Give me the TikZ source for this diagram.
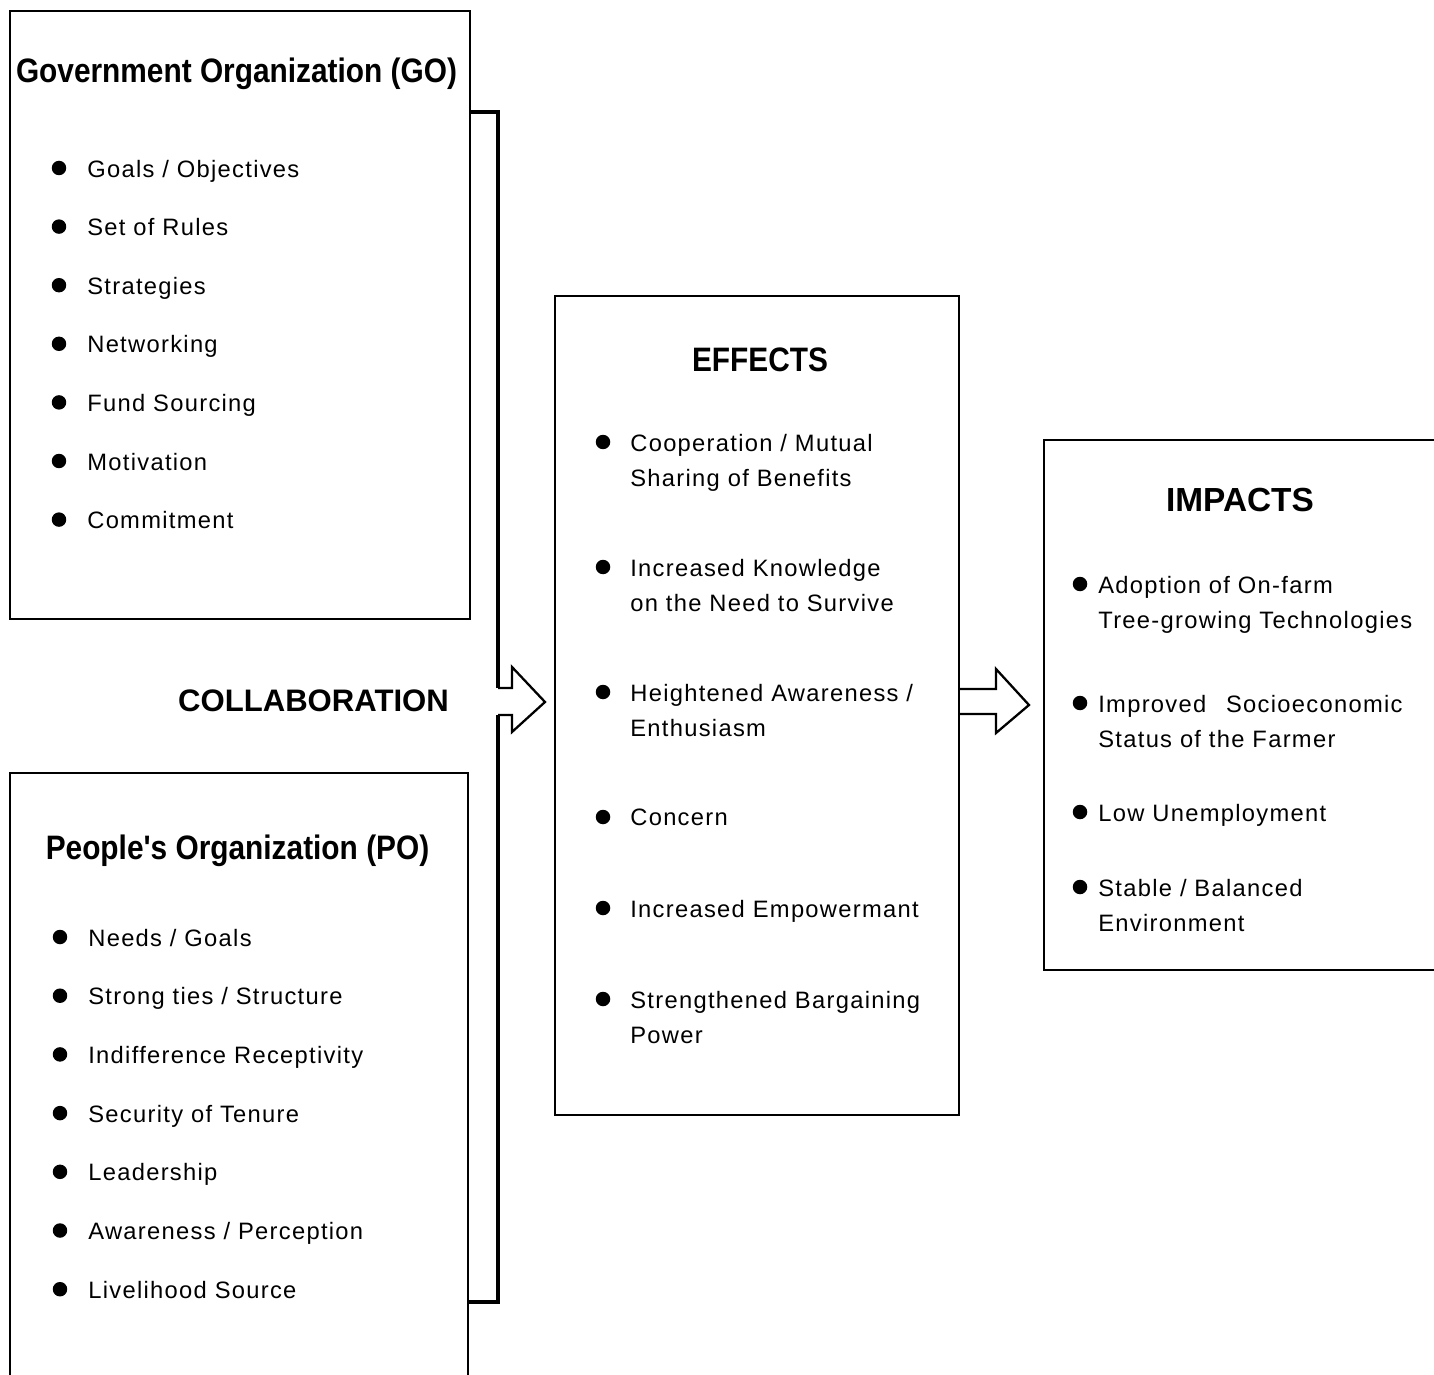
\documentclass[tikz,border=0pt]{standalone}
\usepackage{fontspec}
\setmainfont{Liberation Sans}[LetterSpace=5.5]
\newfontfamily\condfont{Liberation Sans}[FakeStretch=0.88]
\newfontfamily\headfont{Liberation Sans}
\usetikzlibrary{positioning}

\tikzset{
  box/.style={line width=1.3pt},
  bracket/.style={line width=1.8pt, line join=miter},
  blockarrow/.style={line width=1.3pt, line join=miter},
  dot/.style={circle, fill=black, inner sep=0pt, minimum size=0.29cm},
  item/.style={anchor=north west, inner sep=0pt, align=left,
    font={\fontsize{13.5}{19.9}\selectfont}},
  title/.style={anchor=base, inner sep=0pt, font={\condfont\bfseries\fontsize{19.3}{23}\selectfont}},
  bigtitle/.style={anchor=base, inner sep=0pt, font={\headfont\bfseries\fontsize{19}{23}\selectfont}}
}

\begin{document}
\begin{tikzpicture}[x=0.02cm, y=-0.02cm]
	\useasboundingbox (0,0) rectangle (1434,1375);
	\clip (0,0) rectangle (1434,1375);

	% boxes
	\draw[box] (10,11) rectangle (470,619);
	\draw[box] (10,1420) -- (10,773) -- (468,773) -- (468,1420);
	\draw[box] (555,296) rectangle (959,1115);
	\draw[box] (1480,440) -- (1044,440) -- (1044,970) -- (1480,970);

	% bracket joining GO and PO, with the arrow into EFFECTS
	\draw[bracket] (470,112) -- (498,112) -- (498,688);
	\draw[blockarrow] (498,688) -- (512,688) -- (512,667) -- (545,702) -- (512,732) -- (512,715) -- (498,715);
	\draw[bracket] (498,715) -- (498,1302) -- (468,1302);

	% arrow into IMPACTS
	\draw[blockarrow] (959,689) -- (996,689) -- (996,669) -- (1029,705) -- (996,733) -- (996,714) -- (959,714);

	% titles
	\node[title] (go) at (236.5,83) {Government Organization (GO)};
	\node[title] (po) at (237.5,859) {People's Organization (PO)};
	\node[bigtitle, font={\headfont\bfseries\fontsize{17.7}{22}\selectfont}] (collab) at (313.5,711.5) {COLLABORATION};
	\node[title] (effects) at (760,371.5) {EFFECTS};
	\node[bigtitle] (impacts) at (1240,511) {IMPACTS};

	% GO list
	\foreach \txt [count=\i] in {{Goals / Objectives}, {Set of Rules}, {Strategies}, {Networking},
	    {Fund Sourcing}, {Motivation}, {Commitment}} {
		\pgfmathsetmacro{\yy}{168+(\i-1)*58.6}
		\node[dot] (go-dot-\i) at (59,\yy) {};
		\node[item] (go-\i) at (87,\yy-8.5) {\txt};
	}

	% PO list
	\foreach \txt [count=\i] in {{Needs / Goals}, {Strong ties / Structure}, {Indifference Receptivity},
	    {Security of Tenure}, {Leadership}, {Awareness / Perception}, {Livelihood Source}} {
		\pgfmathsetmacro{\yy}{937+(\i-1)*58.7}
		\node[dot] (po-dot-\i) at (60,\yy) {};
		\node[item] (po-\i) at (88,\yy-8.5) {\txt};
	}

	% EFFECTS list
	\foreach \yy/\txt [count=\i] in {442/{Cooperation / Mutual\\Sharing of Benefits},
	    567/{Increased Knowledge\\on the Need to Survive},
	    692/{Heightened Awareness /\\Enthusiasm},
	    817/{Concern},
	    908/{Increased Empowermant},
	    999/{Strengthened Bargaining\\Power}} {
		\node[dot] (eff-dot-\i) at (603,\yy) {};
		\node[item] (eff-\i) at (630,\yy-8.5) {\txt};
	}

	% IMPACTS list
	\foreach \yy/\txt [count=\i] in {584/{Adoption of On-farm\\Tree-growing Technologies},
	    703/{Improved \ \,Socioeconomic\\Status of the Farmer},
	    812/{Low Unemployment},
	    887/{Stable / Balanced\\Environment}} {
		\node[dot] (imp-dot-\i) at (1080,\yy) {};
		\node[item] (imp-\i) at (1098,\yy-8.5) {\txt};
	}
\end{tikzpicture}
\end{document}
